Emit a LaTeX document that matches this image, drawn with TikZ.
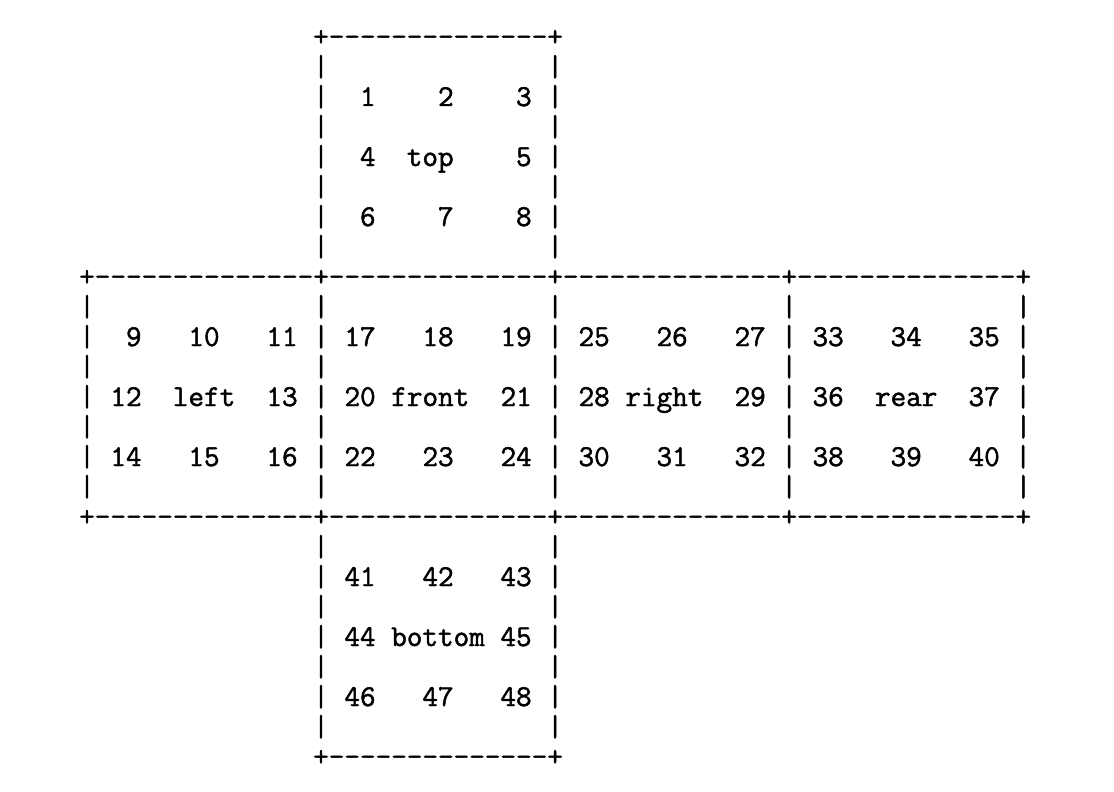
\documentclass[tikz,border=0pt]{standalone}
\usepackage{fontspec}
\newfontfamily\asciimono{Latin Modern Mono}[Ligatures=NoCommon,FakeBold=1.6]
\newcommand\seg{+{-}{-}{-}{-}{-}{-}{-}{-}{-}{-}{-}{-}{-}{-}}
\newcommand\emp{|~~~~~~~~~~~~~~}
\tikzset{asciirow/.style={anchor=base west,inner sep=0pt,outer sep=0pt,font=\asciimono\fontsize{30.3}{30}\selectfont,text=black}}
\begin{document}
\begin{tikzpicture}[x=1pt,y=-1pt]
\useasboundingbox (0,0) rectangle (1114,792);
\def\xa{79.2}
\def\xb{313.2}
% top face
\node[asciirow] (r0) at (\xb,46) {\seg+};
\node[asciirow] (r1) at (\xb,76) {\emp|};
\node[asciirow] (r2) at (\xb,106) {|~~1~~~~2~~~~3~|};
\node[asciirow] (r3) at (\xb,136) {\emp|};
\node[asciirow] (r4) at (\xb,166) {|~~4~~top~~~~5~|};
\node[asciirow] (r5) at (\xb,196) {\emp|};
\node[asciirow] (r6) at (\xb,226) {|~~6~~~~7~~~~8~|};
\node[asciirow] (r7) at (\xb,256) {\emp|};
% middle band
\node[asciirow] (r8) at (\xa,286) {\seg\seg\seg\seg+};
\node[asciirow] (r9) at (\xa,316) {\emp\emp\emp\emp|};
\node[asciirow] (r10) at (\xa,346) {|~~9~~~10~~~11~|~17~~~18~~~19~|~25~~~26~~~27~|~33~~~34~~~35~|};
\node[asciirow] (r11) at (\xa,376) {\emp\emp\emp\emp|};
\node[asciirow] (r12) at (\xa,406) {|~12~~left~~13~|~20~front~~21~|~28~right~~29~|~36~~rear~~37~|};
\node[asciirow] (r13) at (\xa,436) {\emp\emp\emp\emp|};
\node[asciirow] (r14) at (\xa,466) {|~14~~~15~~~16~|~22~~~23~~~24~|~30~~~31~~~32~|~38~~~39~~~40~|};
\node[asciirow] (r15) at (\xa,496) {\emp\emp\emp\emp|};
\node[asciirow] (r16) at (\xa,526) {\seg\seg\seg\seg+};
% bottom face
\node[asciirow] (r17) at (\xb,556) {\emp|};
\node[asciirow] (r18) at (\xb,586) {|~41~~~42~~~43~|};
\node[asciirow] (r19) at (\xb,616) {\emp|};
\node[asciirow] (r20) at (\xb,646) {|~44~bottom~45~|};
\node[asciirow] (r21) at (\xb,676) {\emp|};
\node[asciirow] (r22) at (\xb,706) {|~46~~~47~~~48~|};
\node[asciirow] (r23) at (\xb,736) {\emp|};
\node[asciirow] (r24) at (\xb,766) {\seg+};
\end{tikzpicture}
\end{document}
